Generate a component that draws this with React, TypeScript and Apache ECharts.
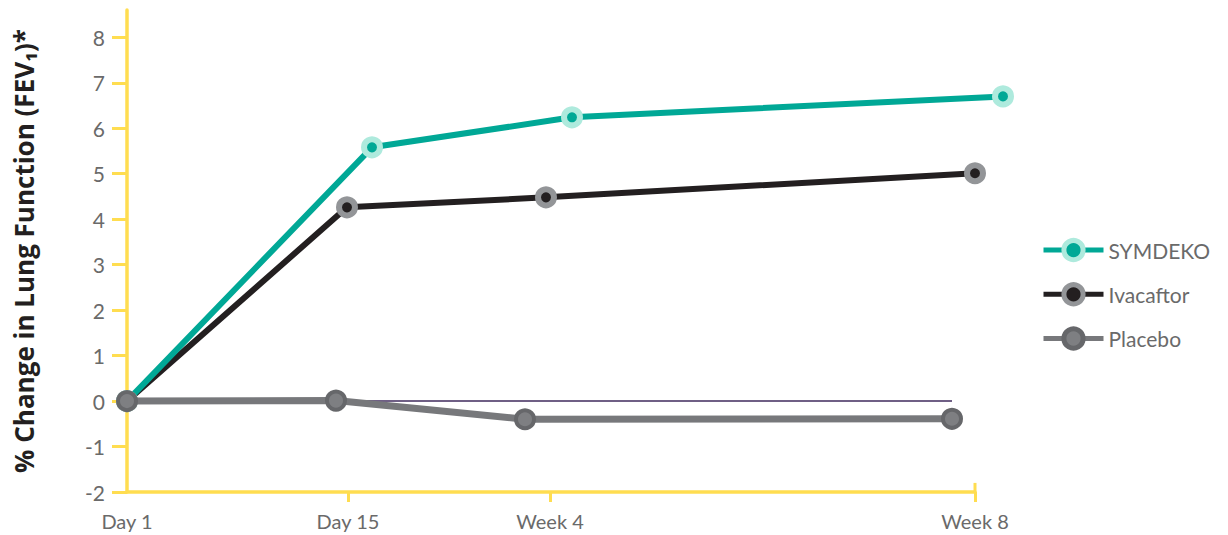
import React, { useEffect, useRef } from "react";
import * as echarts from "echarts";

const CATEGORIES = ["Day 1", "Day 15", "Week 4", "Week 8"];
const CATEGORY_POS = [0, 221, 423, 848];
const Y_TICKS = [-2, -1, 0, 1, 2, 3, 4, 5, 6, 7, 8];

const SERIES_NAMES = ["SYMDEKO", "Ivacaftor", "Placebo"];
const SYMDEKO_X = [0, 245, 445, 876];
const SYMDEKO_Y = [0, 5.58, 6.24, 6.7];
const IVACAFTOR_X = [0, 220, 419, 848];
const IVACAFTOR_Y = [0, 4.26, 4.48, 5.01];
const PLACEBO_X = [0, 209, 398, 825];
const PLACEBO_Y = [0, 0.01, -0.4, -0.39];

const YELLOW = "#FFDD50";
const LABEL_COLOR = "#6a6a6a";
const FONT = "Lato, 'Noto Sans', sans-serif";

const zip = (xs: number[], ys: number[]) => xs.map((x, i) => [x, ys[i]]);

export default function App() {
  const ref = useRef<HTMLDivElement>(null);
  useEffect(() => {
    if (!ref.current) return;
    const chart = echarts.init(ref.current, undefined, { renderer: "svg" });
    const yMin = -2;
    const yMax = 8.6;
    chart.setOption({
      animation: false,
      backgroundColor: "#ffffff",
      textStyle: { fontFamily: FONT },
      grid: [
        { left: 127, right: 253, top: 10, bottom: 43, outerBoundsMode: "none", containLabel: false },
        { left: 127, right: 201, top: 10, bottom: 43, outerBoundsMode: "none", containLabel: false },
      ],
      xAxis: [
        {
          type: "value",
          gridIndex: 0,
          min: 0,
          max: CATEGORY_POS[CATEGORY_POS.length - 1],
          splitLine: { show: false },
          axisLine: { show: true, onZero: false, lineStyle: { color: YELLOW, width: 3.5 } },
          axisTick: {
            show: true,
            customValues: CATEGORY_POS.slice(1),
            length: 10,
            lineStyle: { color: YELLOW, width: 3 },
          },
          axisLabel: {
            customValues: CATEGORY_POS,
            formatter: (v: number) => {
              const i = CATEGORY_POS.indexOf(v);
              return i >= 0 ? CATEGORIES[i] : "";
            },
            color: LABEL_COLOR,
            fontSize: 20,
            fontFamily: FONT,
            margin: 19,
          },
        },
        { type: "value", gridIndex: 1, min: 0, max: 900, show: false },
      ],
      yAxis: [
        {
          type: "value",
          gridIndex: 0,
          min: yMin,
          max: yMax,
          splitLine: { show: false },
          axisLine: { show: true, onZero: false, lineStyle: { color: YELLOW, width: 3.5 } },
          axisTick: {
            show: true,
            customValues: Y_TICKS,
            length: 15,
            lineStyle: { color: YELLOW, width: 3 },
          },
          axisLabel: {
            customValues: Y_TICKS,
            color: LABEL_COLOR,
            fontSize: 21,
            fontFamily: FONT,
            margin: 22,
          },
          name: "% Change in Lung Function (FEV₁)*",
          nameLocation: "middle",
          nameGap: 90,
          nameTextStyle: {
            color: "#231f20",
            fontSize: 26,
            fontWeight: "bold",
            fontFamily: "'Open Sans', Lato, sans-serif",
          },
        },
        { type: "value", gridIndex: 1, min: yMin, max: yMax, show: false },
      ],
      legend: {
        orient: "vertical",
        left: 1036,
        top: 233,
        data: SERIES_NAMES,
        itemWidth: 60,
        itemHeight: 24,
        itemGap: 20,
        lineStyle: { width: 5 },
        itemStyle: { borderWidth: 5 },
        textStyle: { color: LABEL_COLOR, fontSize: 21, fontFamily: FONT },
        selectedMode: false,
      },
      series: [
        {
          type: "line",
          name: "zero",
          xAxisIndex: 1,
          yAxisIndex: 1,
          data: [
            [0, 0],
            [PLACEBO_X[PLACEBO_X.length - 1], 0],
          ],
          symbol: "none",
          lineStyle: { color: "#3f2a5c", width: 1.5 },
          silent: true,
          z: 1,
        },
        {
          type: "line",
          name: "cap",
          xAxisIndex: 1,
          yAxisIndex: 1,
          data: [
            [CATEGORY_POS[CATEGORY_POS.length - 1], yMin],
            [CATEGORY_POS[CATEGORY_POS.length - 1], yMin + 0.2],
          ],
          symbol: "none",
          lineStyle: { color: YELLOW, width: 3 },
          clip: false,
          silent: true,
          z: 1,
        },
        {
          type: "line",
          name: "Ivacaftor",
          xAxisIndex: 1,
          yAxisIndex: 1,
          data: zip(IVACAFTOR_X, IVACAFTOR_Y),
          symbol: "circle",
          symbolSize: 16,
          lineStyle: { color: "#231f20", width: 6 },
          itemStyle: { color: "#231f20", borderColor: "#939598", borderWidth: 6 },
          clip: false,
          z: 3,
        },
        {
          type: "line",
          name: "SYMDEKO",
          xAxisIndex: 1,
          yAxisIndex: 1,
          data: zip(SYMDEKO_X, SYMDEKO_Y),
          symbol: "circle",
          symbolSize: 16,
          lineStyle: { color: "#00a896", width: 6 },
          itemStyle: { color: "#00a896", borderColor: "#aeeadd", borderWidth: 6 },
          clip: false,
          z: 4,
        },
        {
          type: "line",
          name: "Placebo",
          xAxisIndex: 1,
          yAxisIndex: 1,
          data: zip(PLACEBO_X, PLACEBO_Y),
          symbol: "circle",
          symbolSize: 18,
          lineStyle: { color: "#77787b", width: 7 },
          itemStyle: { color: "#7e7f82", borderColor: "#66676a", borderWidth: 4 },
          clip: false,
          z: 5,
        },
      ],
    });
    return () => chart.dispose();
  }, []);
  return (
    <div
      ref={ref}
      style={{ position: "fixed", left: 0, top: 0, width: 1228, height: 535 }}
    />
  );
}
